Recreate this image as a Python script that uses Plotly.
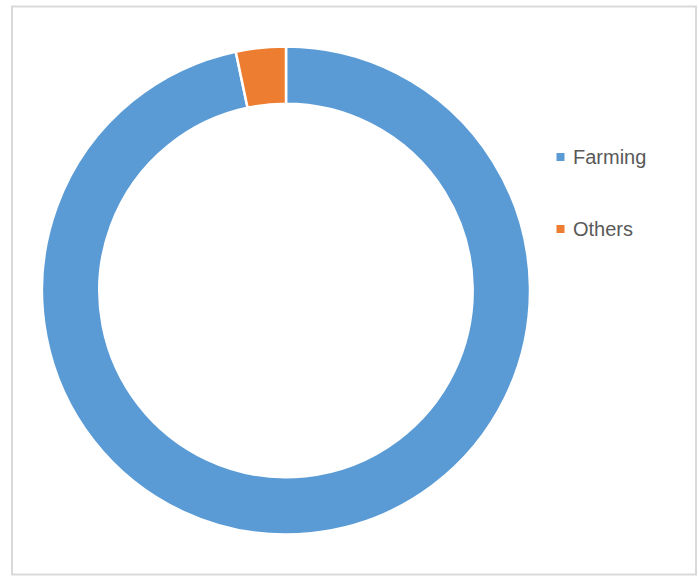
import plotly.graph_objects as go

# Share of activity, in percent
labels = ["Farming", "Others"]
values = [96.7, 3.3]
colors = ["#5b9bd5", "#ed7d31"]

W, H = 699, 576

def px_x(x):
    return x / W

def px_y(y):
    return 1 - y / H

fig = go.Figure()

fig.add_trace(go.Pie(
    labels=labels,
    values=values,
    hole=0.765,
    sort=False,
    direction="clockwise",
    rotation=0,
    textinfo="none",
    hoverinfo="label+percent",
    showlegend=False,
    marker=dict(colors=colors, line=dict(color="white", width=2.5)),
    domain=dict(x=[px_x(42), px_x(530)], y=[px_y(534.5), px_y(46.5)]),
))

shapes = [
    # chart frame
    dict(type="rect", xref="paper", yref="paper",
         x0=px_x(12), x1=px_x(696), y0=px_y(574.5), y1=px_y(6.5),
         line=dict(color="#d9d9d9", width=2), fillcolor="rgba(0,0,0,0)", layer="below"),
]
annotations = []

# legend entries: square marker + label
legend_y = [157, 229]
for lab, col, yc in zip(labels, colors, legend_y):
    shapes.append(dict(type="rect", xref="paper", yref="paper",
                       x0=px_x(556.5), x1=px_x(564.5),
                       y0=px_y(yc + 4), y1=px_y(yc - 4),
                       line=dict(width=0), fillcolor=col))
    annotations.append(dict(text=lab, xref="paper", yref="paper",
                            x=px_x(571), y=px_y(yc), xanchor="left", yanchor="middle",
                            showarrow=False,
                            font=dict(family="Liberation Sans, Arial, sans-serif",
                                      size=20, color="#595959")))

fig.update_layout(
    width=W, height=H,
    margin=dict(l=0, r=0, t=0, b=0),
    paper_bgcolor="white",
    plot_bgcolor="white",
    shapes=shapes,
    annotations=annotations,
)

fig.write_html("out.html")
